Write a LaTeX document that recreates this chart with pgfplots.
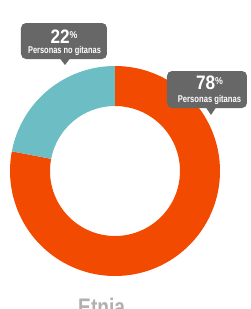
\documentclass[border=0pt]{standalone}
\usepackage{pgfplots}
\pgfplotsset{compat=1.18}
\usepackage{pgfplotstable}
\usepackage{fontspec}
\setmainfont{Liberation Sans}
\usepackage{graphicx}
\definecolor{gitano}{HTML}{F24A00}
\definecolor{nogitano}{HTML}{6DBDC4}
\definecolor{boxgray}{HTML}{676767}
\definecolor{titlegray}{HTML}{B0B0B0}

\pgfplotstableread{
group value
gitanas 78
nogitanas 22
}\etnia

\begin{document}
\begin{tikzpicture}
\useasboundingbox (0,0) rectangle (250pt,309pt);
\pgfplotstablegetelem{0}{value}\of\etnia \let\va\pgfplotsretval
\pgfplotstablegetelem{1}{value}\of\etnia \let\vb\pgfplotsretval
\pgfmathsetmacro{\ea}{90-3.6*\va}
\pgfmathsetmacro{\eb}{90+3.6*\vb}
\begin{axis}[x=1pt,y=1pt,xmin=0,xmax=250,ymin=0,ymax=309,hide axis,anchor=origin,at={(0,0)},clip=false]
% gitanas slice (clockwise from top)
\fill[gitano] ([shift={(90:105pt)}]axis cs:115,138) arc[start angle=90,end angle=\ea,radius=105pt]
  -- ([shift={(\ea:65pt)}]axis cs:115,138) arc[start angle=\ea,end angle=90,radius=65pt] -- cycle;
% no gitanas slice (counter-clockwise from top)
\fill[nogitano] ([shift={(90:105pt)}]axis cs:115,138) arc[start angle=90,end angle=\eb,radius=105pt]
  -- ([shift={(\eb:65pt)}]axis cs:115,138) arc[start angle=\eb,end angle=90,radius=65pt] -- cycle;
\end{axis}
% callout 1
\fill[boxgray,rounded corners=5pt] (21pt,250pt) rectangle (107pt,286pt);
\fill[boxgray] (60pt,250.5pt) -- (65pt,244pt) -- (70pt,250.5pt) -- cycle;
\node[anchor=base,white,inner sep=0] at (64pt,266pt) {\scalebox{0.88}[1]{\fontsize{19.5}{20}\selectfont\bfseries 22\raisebox{4.5pt}{\fontsize{10}{10}\selectfont\%}}};
\node[anchor=base,white,inner sep=0] at (64.5pt,255pt) {\scalebox{0.76}[1]{\fontsize{9.8}{10}\selectfont\bfseries Personas no gitanas}};
% callout 2
\fill[boxgray,rounded corners=5pt] (167pt,201pt) rectangle (247pt,238pt);
\fill[boxgray] (206pt,201.5pt) -- (211pt,194pt) -- (216pt,201.5pt) -- cycle;
\node[anchor=base,white,inner sep=0] at (209.5pt,220pt) {\scalebox{0.88}[1]{\fontsize{19.5}{20}\selectfont\bfseries 78\raisebox{4.5pt}{\fontsize{10}{10}\selectfont\%}}};
\node[anchor=base,white,inner sep=0] at (209.5pt,207pt) {\scalebox{0.78}[1]{\fontsize{9.8}{10}\selectfont\bfseries Personas gitanas}};
% title
\node[anchor=base west,titlegray,inner sep=0] at (78pt,-6pt) {\scalebox{0.8}[1]{\fontsize{24}{24}\selectfont\bfseries Etnia}};
\end{tikzpicture}
\end{document}
